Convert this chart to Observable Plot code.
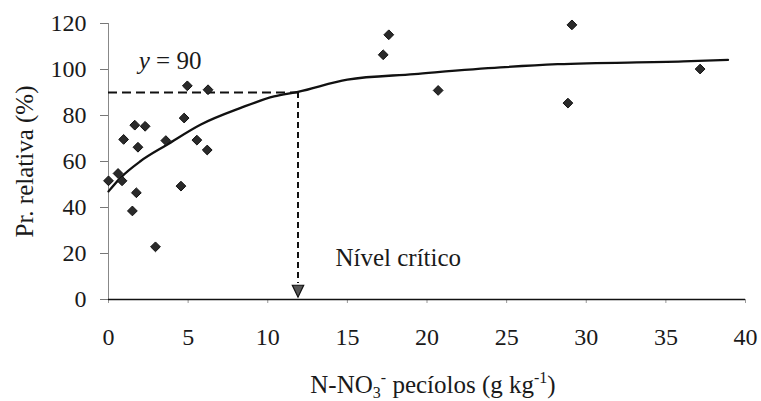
<!DOCTYPE html>
<html>
<head>
<meta charset="utf-8">
<script src="https://cdn.jsdelivr.net/npm/d3@7"></script>
<script src="https://cdn.jsdelivr.net/npm/@observablehq/plot@0.6"></script>
<style>
  html, body { margin: 0; padding: 0; background: #fff; }
  svg, svg text { font-family: "Liberation Serif", "Times New Roman", serif !important; }
</style>
</head>
<body>
<script>
// Observed points: N-NO3 in petioles (g/kg) vs relative production (%)
const pointX = [0.0, 0.6, 0.85, 0.95, 1.5, 1.65, 1.75, 1.85, 2.3, 2.95, 3.6, 4.55, 4.75, 4.95, 5.55, 6.25, 6.2, 17.25, 17.6, 20.7, 28.85, 29.1, 37.15];
const pointY = [51.6, 54.8, 51.6, 69.6, 38.5, 75.8, 46.4, 66.2, 75.3, 22.9, 69.1, 49.3, 78.9, 92.9, 69.3, 91.2, 65.0, 106.4, 115.1, 90.9, 85.4, 119.4, 100.2];

// Fitted response curve
const curveX = [0, 0.75, 2, 3.7, 5.8, 8.3, 10.4, 11.9, 15, 19.2, 24.6, 28.2, 36.1, 38.9];
const curveY = [47, 52.9, 60.1, 67.4, 76.1, 83.3, 88.3, 90.3, 95.6, 98.0, 100.9, 102.3, 103.5, 104.2];

// Critical level
const criticalX = 11.9;
const criticalY = 90;

const xTicks = [0, 5, 10, 15, 20, 25, 30, 35, 40];
const yTicks = [0, 20, 40, 60, 80, 100, 120];

const xLabel = "N-NO3- pecíolos (g kg-1)";
const yLabel = "Pr. relativa (%)";
const eqLabel = "y = 90";
const critLabel = "Nível crítico";

const points = pointX.map((x, i) => ({x, y: pointY[i]}));
const curve = curveX.map((x, i) => ({x, y: curveY[i]}));

const squareDiamond = {
  draw(ctx, size) {
    const s = Math.sqrt(size / 2);
    ctx.moveTo(0, -s); ctx.lineTo(s, 0); ctx.lineTo(0, s); ctx.lineTo(-s, 0); ctx.closePath();
  }
};
const downTriangle = {
  draw(ctx, size) {
    const h = Math.sqrt(size) * 0.75;
    ctx.moveTo(-h * 0.95, -h); ctx.lineTo(h * 0.95, -h); ctx.lineTo(0, h); ctx.closePath();
  }
};

const serif = "Liberation Serif";

const svg = Plot.plot({
  width: 761,
  height: 401,
  marginLeft: 108,
  marginRight: 16,
  marginTop: 23,
  marginBottom: 102,
  x: {domain: [0, 40]},
  y: {domain: [0, 120]},
  style: {fontFamily: serif, fontSize: "24px", color: "#1a1a1a", background: "#fff"},
  marks: [
    Plot.ruleX([0], {y1: 0, y2: 120, stroke: "#888", strokeWidth: 1}),
    Plot.axisY({ticks: yTicks, tickSize: 8, tickPadding: 14, label: null, fontSize: 24, stroke: "#777", fontFamily: serif}),
    Plot.axisX({ticks: xTicks, tickSize: 4, tickPadding: 24, label: null, fontSize: 24, stroke: "#999", fontFamily: serif}),
    Plot.ruleY([0], {x1: 0, x2: 40, stroke: "#111", strokeWidth: 1.6}),
    Plot.ruleY([criticalY], {x1: 0, x2: criticalX, stroke: "#111", strokeWidth: 2, strokeDasharray: "9,5"}),
    Plot.ruleX([criticalX], {y1: criticalY, y2: 7, stroke: "#111", strokeWidth: 2, strokeDasharray: "6,4"}),
    Plot.dot([{x: criticalX, y: 3.6}], {x: "x", y: "y", symbol: downTriangle, r: 4.5, fill: "#555", stroke: "#111", strokeWidth: 1.2}),
    Plot.line(curve, {x: "x", y: "y", stroke: "#111", strokeWidth: 2.3, curve: "monotone-x"}),
    Plot.dot(points, {x: "x", y: "y", symbol: squareDiamond, r: 3.9, fill: "#2a2a2a", stroke: "#111", strokeWidth: 1}),
    Plot.text([eqLabel], {x: 1.9, y: 100.4, text: d => d, textAnchor: "start", lineAnchor: "bottom", fontSize: 25, fontFamily: serif, fill: "#1a1a1a"}),
    Plot.text([critLabel], {x: 14.25, y: 14.6, text: d => d, textAnchor: "start", lineAnchor: "bottom", fontSize: 25, fontFamily: serif, fill: "#1a1a1a"}),
    Plot.text([xLabel], {frameAnchor: "bottom", textAnchor: "middle", dx: 6, dy: 93, text: d => d, lineAnchor: "bottom", fontSize: 25, fontFamily: serif, fill: "#1a1a1a"}),
    Plot.text([yLabel], {frameAnchor: "left", textAnchor: "middle", dx: -76, rotate: -90, text: d => d, lineAnchor: "bottom", fontSize: 25, fontFamily: serif, fill: "#1a1a1a"})
  ]
});

document.body.append(svg);

d3.select(svg).selectAll("text").attr("font-family", serif).each(function() {
  const t = d3.select(this);
  const content = this.textContent;
  if (content === xLabel) {
    t.text(null);
    t.append("tspan").text("N-NO");
    t.append("tspan").attr("font-size", 16).attr("dy", 5).text("3");
    t.append("tspan").attr("font-size", 16).attr("dy", -15).text("-");
    t.append("tspan").attr("dy", 10).text(" pecíolos (g kg");
    t.append("tspan").attr("font-size", 16).attr("dy", -10).text("-1");
    t.append("tspan").attr("dy", 10).text(")");
  } else if (content === eqLabel) {
    t.text(null);
    t.append("tspan").attr("font-style", "italic").text("y");
    t.append("tspan").text(" = 90");
  }
});
</script>
</body>
</html>
